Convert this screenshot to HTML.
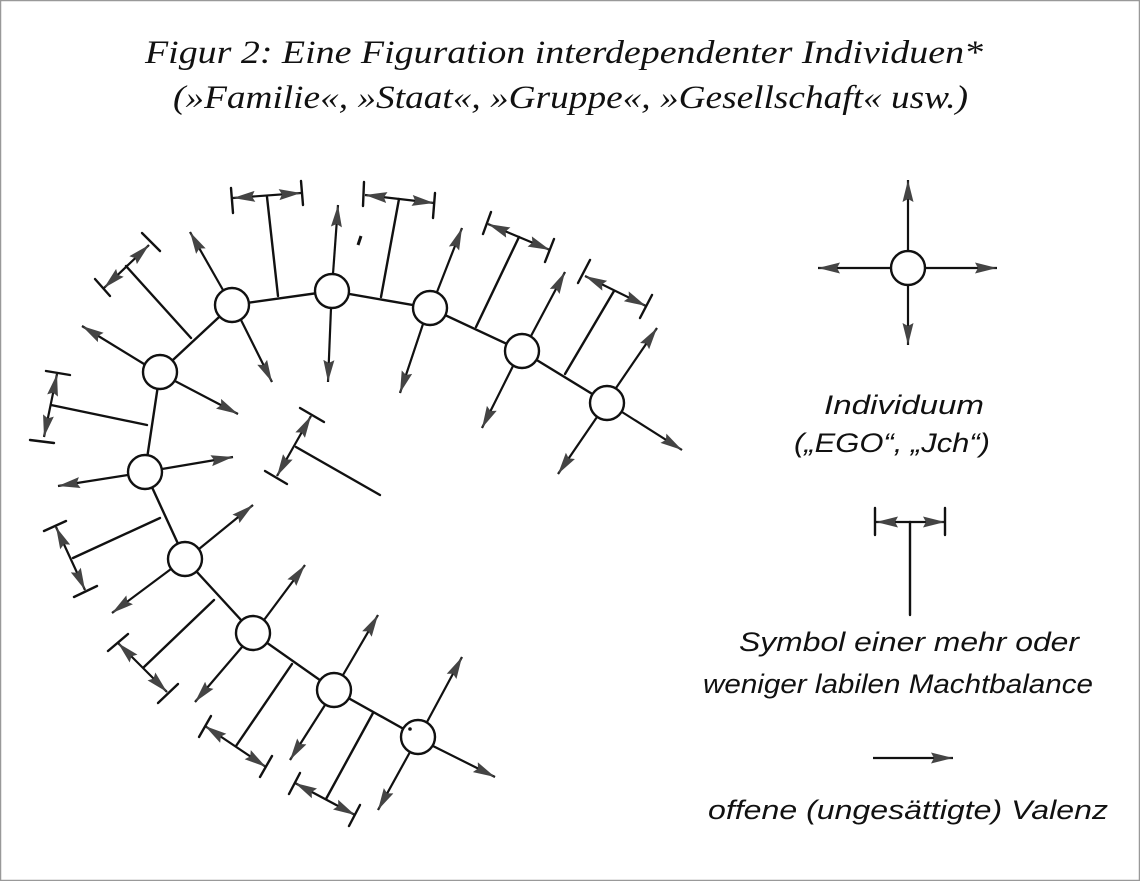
<!DOCTYPE html>
<html><head><meta charset="utf-8"><style>
html,body{margin:0;padding:0;background:#fff}
svg{display:block}
</style></head><body>
<svg width="1140" height="881" viewBox="0 0 1140 881" xmlns="http://www.w3.org/2000/svg">
<defs>
<marker id="a" viewBox="0 0 22 12" refX="22" refY="6" markerWidth="22" markerHeight="12" markerUnits="userSpaceOnUse" orient="auto-start-reverse">
<path d="M0,0.5 L22,6 L0,11.5 L3,6 Z" fill="#444"/>
</marker>
</defs>
<rect x="0.5" y="0.5" width="1139" height="880" fill="#fff" stroke="#999" stroke-width="1.5"/>
<g font-family="Liberation Serif, serif" font-style="italic" font-size="33" fill="#111">
<text x="145" y="63" textLength="838" lengthAdjust="spacingAndGlyphs">Figur 2: Eine Figuration interdependenter Individuen*</text>
<text x="173" y="108" textLength="795" lengthAdjust="spacingAndGlyphs">(»Familie«, »Staat«, »Gruppe«, »Gesellschaft« usw.)</text>
</g>
<g stroke="#111" stroke-width="2.4" fill="none" stroke-linecap="round">
<polyline points="160,372 232,305 332,291 430,308 522,351 607,403"/>
<polyline points="160,372 145,472 185,559 253,633 334,690 418,737"/>
</g>
<g stroke="#111" stroke-width="2.2" fill="none" marker-end="url(#a)">
<line x1="223" y1="290" x2="190" y2="232"/>
<line x1="241" y1="320" x2="272" y2="382"/>
<line x1="333" y1="274" x2="338" y2="205"/>
<line x1="331" y1="308" x2="328" y2="382"/>
<line x1="437" y1="292" x2="462" y2="228"/>
<line x1="423" y1="324" x2="400" y2="393"/>
<line x1="531" y1="336" x2="565" y2="272"/>
<line x1="513" y1="366" x2="482" y2="428"/>
<line x1="616" y1="388" x2="657" y2="328"/>
<line x1="597" y1="417" x2="558" y2="474"/>
<line x1="622" y1="412" x2="682" y2="450"/>
<line x1="144" y1="364" x2="82" y2="326"/>
<line x1="175" y1="381" x2="238" y2="414"/>
<line x1="128" y1="475" x2="58" y2="486"/>
<line x1="162" y1="469" x2="233" y2="457"/>
<line x1="199" y1="549" x2="253" y2="505"/>
<line x1="171" y1="569" x2="112" y2="613"/>
<line x1="264" y1="620" x2="305" y2="565"/>
<line x1="242" y1="647" x2="195" y2="702"/>
<line x1="343" y1="675" x2="378" y2="615"/>
<line x1="325" y1="705" x2="290" y2="760"/>
<line x1="427" y1="722" x2="462" y2="657"/>
<line x1="410" y1="752" x2="378" y2="810"/>
<line x1="433" y1="746" x2="495" y2="777"/>
<line x1="908" y1="251" x2="908" y2="180"/>
<line x1="908" y1="285" x2="908" y2="345"/>
<line x1="891" y1="268" x2="818" y2="268"/>
<line x1="925" y1="268" x2="997" y2="268"/>
<line x1="873" y1="758" x2="953" y2="758"/>
</g>
<g stroke="#111" stroke-width="2.2" fill="none" marker-start="url(#a)" marker-end="url(#a)">
<line x1="233" y1="198" x2="301" y2="193"/>
<line x1="104" y1="288" x2="149" y2="245"/>
<line x1="57" y1="374" x2="44" y2="437"/>
<line x1="56" y1="527" x2="85" y2="590"/>
<line x1="118" y1="643" x2="167" y2="692"/>
<line x1="205" y1="726" x2="266" y2="767"/>
<line x1="295" y1="783" x2="355" y2="815"/>
<line x1="365" y1="195" x2="434" y2="203"/>
<line x1="488" y1="224" x2="550" y2="250"/>
<line x1="585" y1="276" x2="646" y2="306"/>
<line x1="311" y1="416" x2="277" y2="476"/>
<line x1="876" y1="522" x2="945" y2="522"/>
</g>
<g stroke="#111" stroke-width="2.4" fill="none" stroke-linecap="round">
<line x1="278" y1="296" x2="267" y2="197"/>
<line x1="191" y1="338" x2="126" y2="266"/>
<line x1="147" y1="425" x2="51" y2="405"/>
<line x1="160" y1="518" x2="73" y2="558"/>
<line x1="214" y1="600" x2="144" y2="667"/>
<line x1="292" y1="664" x2="236" y2="746"/>
<line x1="373" y1="713" x2="326" y2="799"/>
<line x1="381" y1="297" x2="399" y2="199"/>
<line x1="476" y1="327" x2="519" y2="237"/>
<line x1="565" y1="374" x2="614" y2="291"/>
<line x1="296" y1="447" x2="380" y2="495"/>
<line x1="910" y1="522" x2="910" y2="615"/>
<line x1="231" y1="188" x2="233" y2="213"/>
<line x1="301" y1="181" x2="303" y2="205"/>
<line x1="95" y1="279" x2="110" y2="296"/>
<line x1="142" y1="233" x2="160" y2="251"/>
<line x1="46" y1="371" x2="70" y2="375"/>
<line x1="30" y1="440" x2="54" y2="443"/>
<line x1="44" y1="531" x2="66" y2="521"/>
<line x1="74" y1="597" x2="97" y2="586"/>
<line x1="108" y1="651" x2="128" y2="634"/>
<line x1="158" y1="703" x2="178" y2="684"/>
<line x1="199" y1="737" x2="211" y2="716"/>
<line x1="260" y1="777" x2="272" y2="756"/>
<line x1="289" y1="794" x2="300" y2="773"/>
<line x1="349" y1="826" x2="360" y2="805"/>
<line x1="364" y1="182" x2="363" y2="206"/>
<line x1="435" y1="193" x2="433" y2="218"/>
<line x1="491" y1="212" x2="483" y2="234"/>
<line x1="554" y1="239" x2="545" y2="262"/>
<line x1="590" y1="260" x2="578" y2="283"/>
<line x1="652" y1="295" x2="640" y2="318"/>
<line x1="300" y1="408" x2="324" y2="422"/>
<line x1="265" y1="471" x2="287" y2="484"/>
<line x1="875" y1="508" x2="875" y2="535"/>
<line x1="945" y1="508" x2="945" y2="535"/>
</g>
<g stroke="#111" stroke-width="2.4" fill="#fff">
<circle cx="232" cy="305" r="17"/>
<circle cx="332" cy="291" r="17"/>
<circle cx="430" cy="308" r="17"/>
<circle cx="522" cy="351" r="17"/>
<circle cx="607" cy="403" r="17"/>
<circle cx="160" cy="372" r="17"/>
<circle cx="145" cy="472" r="17"/>
<circle cx="185" cy="559" r="17"/>
<circle cx="253" cy="633" r="17"/>
<circle cx="334" cy="690" r="17"/>
<circle cx="418" cy="737" r="17"/>
<circle cx="908" cy="268" r="17"/>
</g>
<circle cx="410" cy="729" r="1.8" fill="#111"/>
<path d="M361,236 L358,245" stroke="#111" stroke-width="3"/>
<g font-family="Liberation Sans, sans-serif" font-style="italic" font-size="27" fill="#111">
<text x="824" y="414" textLength="160" lengthAdjust="spacingAndGlyphs">Individuum</text>
<text x="794" y="452" textLength="196" lengthAdjust="spacingAndGlyphs">(„EGO“, „Jch“)</text>
<text x="739" y="651" textLength="340" lengthAdjust="spacingAndGlyphs">Symbol einer mehr oder</text>
<text x="703" y="693" textLength="390" lengthAdjust="spacingAndGlyphs">weniger labilen Machtbalance</text>
<text x="708" y="819" textLength="400" lengthAdjust="spacingAndGlyphs">offene (ungesättigte) Valenz</text>
</g>
</svg>
</body></html>
